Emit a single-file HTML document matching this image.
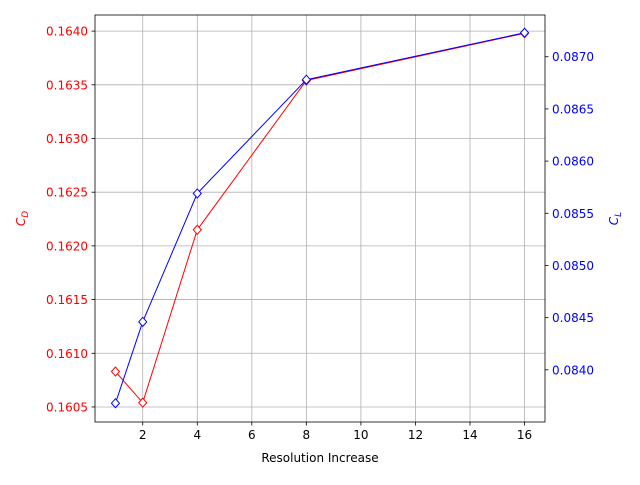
<!DOCTYPE html>
<html><head><meta charset="utf-8"><style>body{margin:0;background:#fff}svg{font-family:"DejaVu Sans","Liberation Sans",sans-serif}</style></head>
<body>
<svg id="c" width="640" height="480"></svg>
<script>
const xs=[1,2,4,8,16];
const cd=[0.16083,0.16054,0.16215,0.16354,0.16398];
const cl=[0.08368,0.08446,0.08569,0.08678,0.08723];
const xTicks=[2,4,6,8,10,12,14,16];
const cdTicks=[0.1605,0.1610,0.1615,0.1620,0.1625,0.1630,0.1635,0.1640];
const clTicks=[0.0840,0.0845,0.0850,0.0855,0.0860,0.0865,0.0870];
const L=95,R=545,T=15,B=422;
const X=v=>L+(v-0.25)/(16.75-0.25)*(R-L);
const Y1=v=>B-(v-0.16036)/(0.16415-0.16036)*(B-T);
const Y2=v=>B-(v-0.08350)/(0.08740-0.08350)*(B-T);
const s=document.getElementById('c');const NS='http://www.w3.org/2000/svg';
function el(t,a,p){const e=document.createElementNS(NS,t);for(const k in a)e.setAttribute(k,a[k]);(p||s).appendChild(e);return e;}
xTicks.forEach(t=>{const x=X(t);
const g=el('line',{x1:x,x2:x,y1:T,y2:B,stroke:'#b0b0b0','stroke-width':0.8});


el('line',{x1:x,x2:x,y1:B,y2:B+3.5,stroke:'#000','stroke-width':0.8});
const tx=el('text',{x:x,y:B+17,'font-size':12,'text-anchor':'middle'});tx.textContent=t;

});
cdTicks.forEach(t=>{const y=Y1(t);
const g=el('line',{x1:L,x2:R,y1:y,y2:y,stroke:'#b0b0b0','stroke-width':0.8});


el('line',{x1:L-3.5,x2:L,y1:y,y2:y,stroke:'#000','stroke-width':0.8});
const tx=el('text',{x:L-7,y:y+4.5,'font-size':12,'text-anchor':'end',fill:'red'});tx.textContent=t.toFixed(4);

});
clTicks.forEach(t=>{const y=Y2(t);
el('line',{x1:R,x2:R+3.5,y1:y,y2:y,stroke:'#000','stroke-width':0.8});
const tx=el('text',{x:R+7,y:y+4.5,'font-size':12,fill:'blue'});tx.textContent=t.toFixed(4);

});
function series(vals,Y,col,name){
const pl=el('polyline',{points:xs.map((x,i)=>X(x)+','+Y(vals[i])).join(' '),fill:'none',stroke:col,'stroke-width':1});


xs.forEach((x,i)=>{const cx=X(x),cy=Y(vals[i]);
const m=el('polygon',{points:`${cx},${cy-4.5} ${cx+4},${cy} ${cx},${cy+4.5} ${cx-4},${cy}`,fill:'#fff',stroke:col,'stroke-width':1});

});}
series(cd,Y1,'red','cd');
series(cl,Y2,'blue','cl');
const fr=el('rect',{x:L,y:T,width:R-L,height:B-T,fill:'none',stroke:'#000','stroke-width':0.8});


const xl=el('text',{x:(L+R)/2,y:462,'font-size':12,'text-anchor':'middle'});xl.textContent='Resolution Increase';


const yl=el('text',{x:25,y:(T+B)/2,'font-size':12,'text-anchor':'middle',fill:'red',transform:`rotate(-90 25 ${(T+B)/2})`,'font-style':'italic'});
yl.innerHTML='C<tspan font-size="9" dy="3">D</tspan>';


const yr=el('text',{x:618,y:(T+B)/2,'font-size':12,'text-anchor':'middle',fill:'blue',transform:`rotate(-90 618 ${(T+B)/2})`,'font-style':'italic'});
yr.innerHTML='C<tspan font-size="9" dy="3">L</tspan>';


</script>
</body></html>
